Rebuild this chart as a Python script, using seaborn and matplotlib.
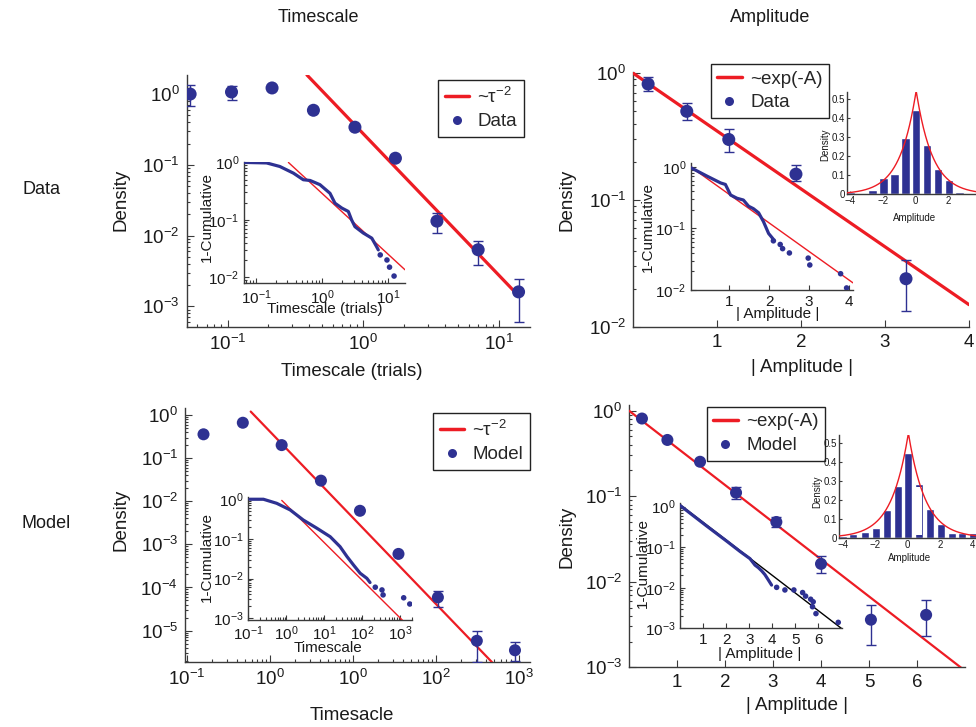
import numpy as np
import matplotlib
matplotlib.use("Agg")
import matplotlib.pyplot as plt
from matplotlib.lines import Line2D
from matplotlib.ticker import (LogLocator, NullFormatter, FixedLocator,
                               FixedFormatter, MultipleLocator)
import seaborn as sns

# ---------------- Timescale, data ----------------
ts_data_x = [0.053, 0.107, 0.213, 0.43, 0.87, 1.73, 3.5, 7.05, 14.0]
ts_data_y = [1.0, 1.07, 1.22, 0.59, 0.34, 0.124, 0.016, 0.0063, 0.0016]
ts_data_err_x = [0.053, 0.107, 3.5, 7.05, 14.0]
ts_data_err_lo = [0.67, 0.83, 0.0107, 0.0038, 0.0006]
ts_data_err_hi = [1.35, 1.31, 0.021, 0.0085, 0.0024]
ts_data_fit_x = [0.385, 14.0]
ts_data_fit_coef = 0.276

cum_ts_data_x = [0.068, 0.145, 0.23, 0.37, 0.52, 0.66, 0.93, 1.32, 1.57,
                 2.0, 2.5, 2.8, 3.15, 4.2, 5.66, 6.7, 7.1]
cum_ts_data_y = [1.0, 0.98, 0.85, 0.65, 0.50, 0.485, 0.41, 0.29, 0.195,
                 0.16, 0.14, 0.10, 0.076, 0.059, 0.048, 0.034, 0.030]
tail_ts_data_x = [7.6, 9.6, 10.5, 12.3]
tail_ts_data_y = [0.0245, 0.020, 0.015, 0.0105]
cum_ts_data_fit_x = [0.31, 18.0]
cum_ts_data_fit = (0.289, 1.06)

# ---------------- Amplitude, data ----------------
amp_data_x = [0.18, 0.64, 1.14, 1.94, 3.25]
amp_data_y = [0.82, 0.50, 0.30, 0.16, 0.024]
amp_data_lo = [0.72, 0.43, 0.24, 0.14, 0.0134]
amp_data_hi = [0.93, 0.58, 0.36, 0.19, 0.034]
amp_data_fit_x = [0.0, 4.0]
amp_data_rate = 1.05

cum_amp_data_x = [0.05, 0.45, 0.79, 0.91, 1.04, 1.2, 1.36, 1.49, 1.61,
                  1.74, 1.86, 1.99, 2.1]
cum_amp_data_y = [0.97, 0.71, 0.55, 0.52, 0.35, 0.31, 0.29, 0.23, 0.21,
                  0.18, 0.13, 0.083, 0.068]
tail_amp_data_x = [2.11, 2.28, 2.34, 2.51, 2.98, 3.02, 3.79, 3.94]
tail_amp_data_y = [0.063, 0.055, 0.047, 0.040, 0.033, 0.0255, 0.0184, 0.0108]
cum_amp_data_fit_x = [0.05, 4.1]
cum_amp_data_fit = (1.05, 1.07)

hist_data_centers = [-3.95, -3.28, -2.62, -1.95, -1.28, -0.62, 0.05, 0.72,
                     1.38, 2.05, 2.72]
hist_data_heights = [0.010, 0.0, 0.023, 0.085, 0.105, 0.297, 0.444, 0.26,
                     0.133, 0.075, 0.013]
hist_data_fit = (0.545, 1.0, 0.05)   # peak, scale, centre

# ---------------- Timescale, model ----------------
ts_model_x = [0.158, 0.47, 1.38, 4.1, 12.1, 35.2, 105.0, 309.0, 890.0]
ts_model_y = [0.356, 0.66, 0.2, 0.030, 0.006, 0.0006, 5.9e-5, 5.8e-6, 3.5e-6]
ts_model_err_x = [105.0, 309.0, 890.0]
ts_model_err_lo = [3.6e-5, 1.9e-6, 2.0e-6]
ts_model_err_hi = [8.3e-5, 1.0e-5, 5.5e-6]
ts_model_fit_x = [0.585, 470.0]
ts_model_fit_coef = 0.41
ts_model_ticks = [0.1, 1, 10, 100, 1000]
ts_model_ticklabels = ["$10^{-1}$", "$10^{0}$", "$10^{0}$", "$10^{2}$", "$10^{3}$"]

cum_ts_model_x = [0.11, 0.25, 0.56, 1.26, 2.8, 6.4, 14.3, 26.0, 39.6, 59.0,
                  88.0, 132.0, 160.0]
cum_ts_model_y = [1.0, 1.0, 0.79, 0.54, 0.30, 0.186, 0.114, 0.064, 0.036,
                  0.022, 0.0137, 0.0102, 0.008]
tail_ts_model_x = [220.0, 330.0, 353.0, 1230.0, 1780.0]
tail_ts_model_y = [0.0061, 0.0052, 0.0039, 0.0033, 0.0023]
cum_ts_model_fit_x = [0.76, 1150.0]
cum_ts_model_fit = (0.72, 0.95)

# ---------------- Amplitude, model ----------------
amp_model_x = [0.27, 0.80, 1.48, 2.23, 3.07, 4.0, 5.04, 6.19]
amp_model_y = [0.81, 0.455, 0.253, 0.11, 0.050, 0.0162, 0.0036, 0.0041]
amp_model_err_x = [2.23, 3.07, 4.0, 5.04, 6.19]
amp_model_err_lo = [0.094, 0.044, 0.0125, 0.0018, 0.0023]
amp_model_err_hi = [0.128, 0.057, 0.020, 0.0054, 0.0062]
amp_model_fit_x = [0.0, 7.0]
amp_model_rate = 1.0

cum_amp_model_x = [0.0, 1.15, 2.02, 2.6, 3.03, 3.25, 3.4, 3.54, 3.68, 3.83, 3.97]
cum_amp_model_y = [1.05, 0.33, 0.14, 0.078, 0.052, 0.036, 0.031, 0.026,
                   0.021, 0.0155, 0.0116]
tail_amp_model_x = [4.19, 4.55, 4.94, 5.32, 5.45, 5.67, 5.78, 5.75, 5.9, 6.87]
tail_amp_model_y = [0.0102, 0.0088, 0.0088, 0.0076, 0.0062, 0.0052, 0.0045,
                    0.0034, 0.0023, 0.0014]
cum_amp_model_fit_x = [0.0, 7.0]
cum_amp_model_fit = (1.1, 1.0)

hist_model_centers = [-3.99, -3.37, -2.64, -1.96, -1.26, -0.58, 0.04, 0.72,
                      1.38, 2.04, 2.72, 3.38, 4.02]
hist_model_heights = [0.011, 0.018, 0.032, 0.049, 0.146, 0.273, 0.446, 0.282,
                      0.152, 0.072, 0.026, 0.023, 0.026]
hist_model_fit = (0.55, 1.05, 0.04)
# bin at 0.72 is drawn hollow between these densities
hist_model_hollow = (0.72, 0.014, 0.268)

# ---------------- style ----------------
sns.set_theme(style="ticks")
plt.rcParams["font.family"] = ["Liberation Sans", "DejaVu Sans"]
plt.rcParams["mathtext.fontset"] = "custom"
plt.rcParams["mathtext.rm"] = "Liberation Sans"
plt.rcParams["mathtext.it"] = "Liberation Sans:italic"
plt.rcParams["mathtext.bf"] = "Liberation Sans:bold"
plt.rcParams["mathtext.sf"] = "Liberation Sans"

BLUE = "#2E3192"
RED = "#ED1C24"
AXC = "#3a3a3a"
TXT = "#1a1a1a"

W, H = 976, 727
fig = plt.figure(figsize=(W / 100, H / 100), dpi=100)
fig.patch.set_facecolor("white")


def px_axes(left, top, right, bottom):
    return fig.add_axes([left / W, 1 - bottom / H, (right - left) / W,
                         (bottom - top) / H])


def fpos(x, y):
    return (x / W, 1 - y / H)


def style(ax, size, major=4, minor=2, pad=3.5):
    ax.set_facecolor("none")
    ax.grid(False)
    for s in ("top", "right"):
        ax.spines[s].set_visible(False)
    for s in ("left", "bottom"):
        ax.spines[s].set_color(AXC)
        ax.spines[s].set_linewidth(1.0)
    ax.tick_params(which="both", direction="in", color=AXC, labelcolor=TXT,
                   labelsize=size, width=0.8, pad=pad)
    ax.tick_params(which="major", length=major)
    ax.tick_params(which="minor", length=minor)


def log_axis(axis):
    axis.set_major_locator(LogLocator(base=10, numticks=20))
    axis.set_minor_locator(LogLocator(base=10, subs=np.arange(2, 10), numticks=20))
    axis.set_minor_formatter(NullFormatter())


def place_labels(ax, xlabel, xpos, ylabel, ypos, size):
    ax.set_xlabel(xlabel, fontsize=size, color=TXT)
    ax.set_ylabel(ylabel, fontsize=size, color=TXT)
    ax.xaxis.label.set_va("center")
    ax.yaxis.label.set_va("center")
    ax.xaxis.set_label_coords(*fpos(*xpos), transform=fig.transFigure)
    ax.yaxis.set_label_coords(*fpos(*ypos), transform=fig.transFigure)


def dots(ax, x, y, s):
    sns.scatterplot(x=x, y=y, ax=ax, color=BLUE, s=s, edgecolor="none",
                    linewidth=0, legend=False, zorder=4)


def line(ax, x, y, color, lw, z=3):
    sns.lineplot(x=x, y=y, ax=ax, color=color, linewidth=lw, sort=False,
                 estimator=None, legend=False, zorder=z)


def bars(ax, x, lo, hi, y):
    x = np.asarray(x)
    lo = np.asarray(lo)
    hi = np.asarray(hi)
    mid = np.asarray(y)
    ax.errorbar(x, mid, yerr=[mid - lo, hi - mid], fmt="none", ecolor=BLUE,
                elinewidth=1.0, capsize=3.5, capthick=1.0, zorder=3)


def legend(ax, label_fit, label_pts, corner):
    handles = [Line2D([], [], color=RED, lw=2.5),
               Line2D([], [], color=BLUE, lw=0, marker="o", ms=6.5,
                      markeredgewidth=0)]
    lg = ax.legend(handles, [label_fit, label_pts], loc="upper left",
                   bbox_to_anchor=fpos(*corner), bbox_transform=fig.transFigure,
                   frameon=True, fancybox=False, framealpha=1, edgecolor="#222222",
                   fontsize=13.5, handlelength=1.3, handletextpad=0.45,
                   borderpad=0.35, labelspacing=0.35, borderaxespad=0)
    lg.get_frame().set_linewidth(1.0)
    lg.set_zorder(10)


BAR_WIDTH = 0.8


def histogram(ax, centers, heights, fit, xlim, xticks):
    sns.barplot(x=centers, y=heights, native_scale=True, color=BLUE,
                saturation=1, width=BAR_WIDTH, errorbar=None, ax=ax, zorder=2)
    peak, scale, c0 = fit
    xs = np.linspace(xlim[0], xlim[1], 600)
    line(ax, xs, peak * np.exp(-np.abs(xs - c0) / scale), RED, 1.0)
    style(ax, 7, major=2.5, pad=1.5)
    ax.set_xlim(*xlim)
    ax.set_ylim(0, 0.54)
    ax.xaxis.set_major_locator(FixedLocator(xticks))
    ax.yaxis.set_major_locator(MultipleLocator(0.1))
    ax.yaxis.set_major_formatter(plt.FuncFormatter(
        lambda v, p: "0" if abs(v) < 1e-9 else f"{v:.1f}"))


OUT = 13.5
INS = 11

# ======== Timescale / Data ========
axA = px_axes(186.7, 75, 530, 327)
axA.set_xscale("log")
axA.set_yscale("log")
line(axA, ts_data_fit_x, ts_data_fit_coef / np.asarray(ts_data_fit_x) ** 2, RED, 2.3)
bars(axA, ts_data_err_x, ts_data_err_lo, ts_data_err_hi,
     [ts_data_y[ts_data_x.index(v)] for v in ts_data_err_x])
dots(axA, ts_data_x, ts_data_y, 88)
style(axA, OUT, major=5, minor=2.5, pad=5)
axA.set_xlim(0.05, 17)
axA.set_ylim(5.1e-4, 1.86)
log_axis(axA.xaxis)
log_axis(axA.yaxis)
place_labels(axA, "Timescale (trials)", (352, 372), "Density", (121, 200), OUT)
legend(axA, "~τ$^{-2}$", "Data", (438, 80))

axA1 = px_axes(244, 161.7, 405, 283.3)
axA1.set_xscale("log")
axA1.set_yscale("log")
a, b = cum_ts_data_fit
line(axA1, cum_ts_data_fit_x, a * np.asarray(cum_ts_data_fit_x) ** (-b), RED, 1.0)
line(axA1, cum_ts_data_x, cum_ts_data_y, BLUE, 2.3, z=4)
dots(axA1, tail_ts_data_x, tail_ts_data_y, 16)
style(axA1, INS, major=3.5, minor=2)
axA1.set_xlim(0.066, 18)
axA1.set_ylim(0.00785, 1.03)
log_axis(axA1.xaxis)
log_axis(axA1.yaxis)
place_labels(axA1, "Timescale (trials)", (325, 309), "1-Cumulative", (207, 217), INS)

# ======== Amplitude / Data ========
axB = px_axes(633, 72, 969, 327)
axB.set_yscale("log")
fx = np.asarray(amp_data_fit_x)
line(axB, fx, np.exp(-amp_data_rate * fx), RED, 2.3)
bars(axB, amp_data_x, amp_data_lo, amp_data_hi, amp_data_y)
dots(axB, amp_data_x, amp_data_y, 88)
style(axB, OUT, major=5, minor=2.5, pad=5)
axB.set_xlim(0, 4)
axB.set_ylim(0.01, 1.02)
axB.xaxis.set_major_locator(FixedLocator([1, 2, 3, 4]))
log_axis(axB.yaxis)
place_labels(axB, "| Amplitude |", (802, 367), "Density", (567, 200), OUT)
legend(axB, "~exp(-A)", "Data", (710.7, 64))

axB1 = px_axes(691, 163, 853, 290)
axB1.set_yscale("log")
a, b = cum_amp_data_fit
fx = np.asarray(cum_amp_data_fit_x)
line(axB1, fx, a * np.exp(-b * fx), RED, 1.0)
line(axB1, cum_amp_data_x, cum_amp_data_y, BLUE, 2.3, z=4)
dots(axB1, tail_amp_data_x, tail_amp_data_y, 16)
style(axB1, INS, major=3.5, minor=2)
axB1.set_xlim(0.05, 4.1)
axB1.set_ylim(0.01, 1.16)
axB1.xaxis.set_major_locator(FixedLocator([1, 2, 3, 4]))
log_axis(axB1.yaxis)
place_labels(axB1, "| Amplitude |", (778, 314), "1-Cumulative", (648, 227), INS)

axB2 = px_axes(846.7, 91.7, 984, 194.3)
histogram(axB2, hist_data_centers, hist_data_heights, hist_data_fit,
          (-4.2, 4.2), [-4, -2, 0, 2, 4])
place_labels(axB2, "Amplitude", (915, 218), "Density", (825, 145), 7)

# ======== Timescale / Model ========
axC = px_axes(185, 408, 530, 661.7)
axC.set_xscale("log")
axC.set_yscale("log")
fx = np.asarray(ts_model_fit_x)
line(axC, fx, ts_model_fit_coef / fx ** 2, RED, 1.6)
bars(axC, ts_model_err_x, ts_model_err_lo, ts_model_err_hi,
     [ts_model_y[ts_model_x.index(v)] for v in ts_model_err_x])
dots(axC, ts_model_x, ts_model_y, 75)
style(axC, OUT, major=5, minor=2.5, pad=5)
axC.set_xlim(0.0946, 1350)
axC.set_ylim(1.9e-6, 1.45)
log_axis(axC.xaxis)
log_axis(axC.yaxis)
axC.xaxis.set_major_locator(FixedLocator(ts_model_ticks))
axC.xaxis.set_major_formatter(FixedFormatter(ts_model_ticklabels))
place_labels(axC, "Timesacle", (352, 715), "Density", (121, 520), OUT)
legend(axC, "~τ$^{-2}$", "Model", (433, 413))

axC1 = px_axes(248.3, 497.3, 411.7, 620)
axC1.set_xscale("log")
axC1.set_yscale("log")
a, b = cum_ts_model_fit
fx = np.asarray(cum_ts_model_fit_x)
line(axC1, fx, a * fx ** (-b), RED, 1.0)
line(axC1, cum_ts_model_x, cum_ts_model_y, BLUE, 2.3, z=4)
dots(axC1, tail_ts_model_x, tail_ts_model_y, 16)
style(axC1, INS, major=3.5, minor=2)
axC1.set_xlim(0.1, 2000)
axC1.set_ylim(9.1e-4, 1.12)
log_axis(axC1.xaxis)
log_axis(axC1.yaxis)
place_labels(axC1, "Timescale", (328, 648), "1-Cumulative", (207, 557), INS)

# ======== Amplitude / Model ========
axD = px_axes(629, 405, 965, 667.3)
axD.set_yscale("log")
fx = np.asarray(amp_model_fit_x)
line(axD, fx, np.exp(-amp_model_rate * fx), RED, 1.6)
bars(axD, amp_model_err_x, amp_model_err_lo, amp_model_err_hi,
     [amp_model_y[amp_model_x.index(v)] for v in amp_model_err_x])
dots(axD, amp_model_x, amp_model_y, 75)
style(axD, OUT, major=5, minor=2.5, pad=5)
axD.set_xlim(0, 7)
axD.set_ylim(1e-3, 1.166)
axD.xaxis.set_major_locator(FixedLocator([1, 2, 3, 4, 5, 6]))
log_axis(axD.yaxis)
place_labels(axD, "| Amplitude |", (797, 705), "Density", (567, 537), OUT)
legend(axD, "~exp(-A)", "Model", (706.7, 406.7))

axD1 = px_axes(680.3, 503.3, 841.7, 628.3)
axD1.set_yscale("log")
a, b = cum_amp_model_fit
fx = np.asarray(cum_amp_model_fit_x)
line(axD1, fx, a * np.exp(-b * fx), "black", 1.0)
line(axD1, cum_amp_model_x, cum_amp_model_y, BLUE, 2.3, z=4)
dots(axD1, tail_amp_model_x, tail_amp_model_y, 16)
style(axD1, INS, major=3.5, minor=2)
axD1.set_xlim(0, 7.02)
axD1.set_ylim(1e-3, 1.2)
axD1.xaxis.set_major_locator(FixedLocator([1, 2, 3, 4, 5, 6]))
log_axis(axD1.yaxis)
place_labels(axD1, "| Amplitude |", (760, 654), "1-Cumulative", (643, 563), INS)

axD2 = px_axes(839.3, 435, 977, 537.7)
histogram(axD2, hist_model_centers, hist_model_heights, hist_model_fit,
          (-4.24, 4.29), [-4, -2, 0, 2, 4])
# hollow interior of one bin
hx, hlo, hhi = hist_model_hollow
bin_step = np.min(np.diff(hist_model_centers))
axD2.bar(hx, hhi - hlo, bottom=hlo, width=BAR_WIDTH * bin_step * 0.78,
         color="white", linewidth=0, zorder=2.5)
place_labels(axD2, "Amplitude", (910, 558), "Density", (817, 492), 7)

# ======== row / column titles ========
fig.text(*fpos(318, 18), "Timescale", ha="center", va="center", fontsize=13, color=TXT)
fig.text(*fpos(770, 18), "Amplitude", ha="center", va="center", fontsize=13, color=TXT)
fig.text(*fpos(41, 190), "Data", ha="center", va="center", fontsize=13, color=TXT)
fig.text(*fpos(46, 523), "Model", ha="center", va="center", fontsize=13, color=TXT)

fig.savefig("out.png", dpi=100, facecolor="white")
